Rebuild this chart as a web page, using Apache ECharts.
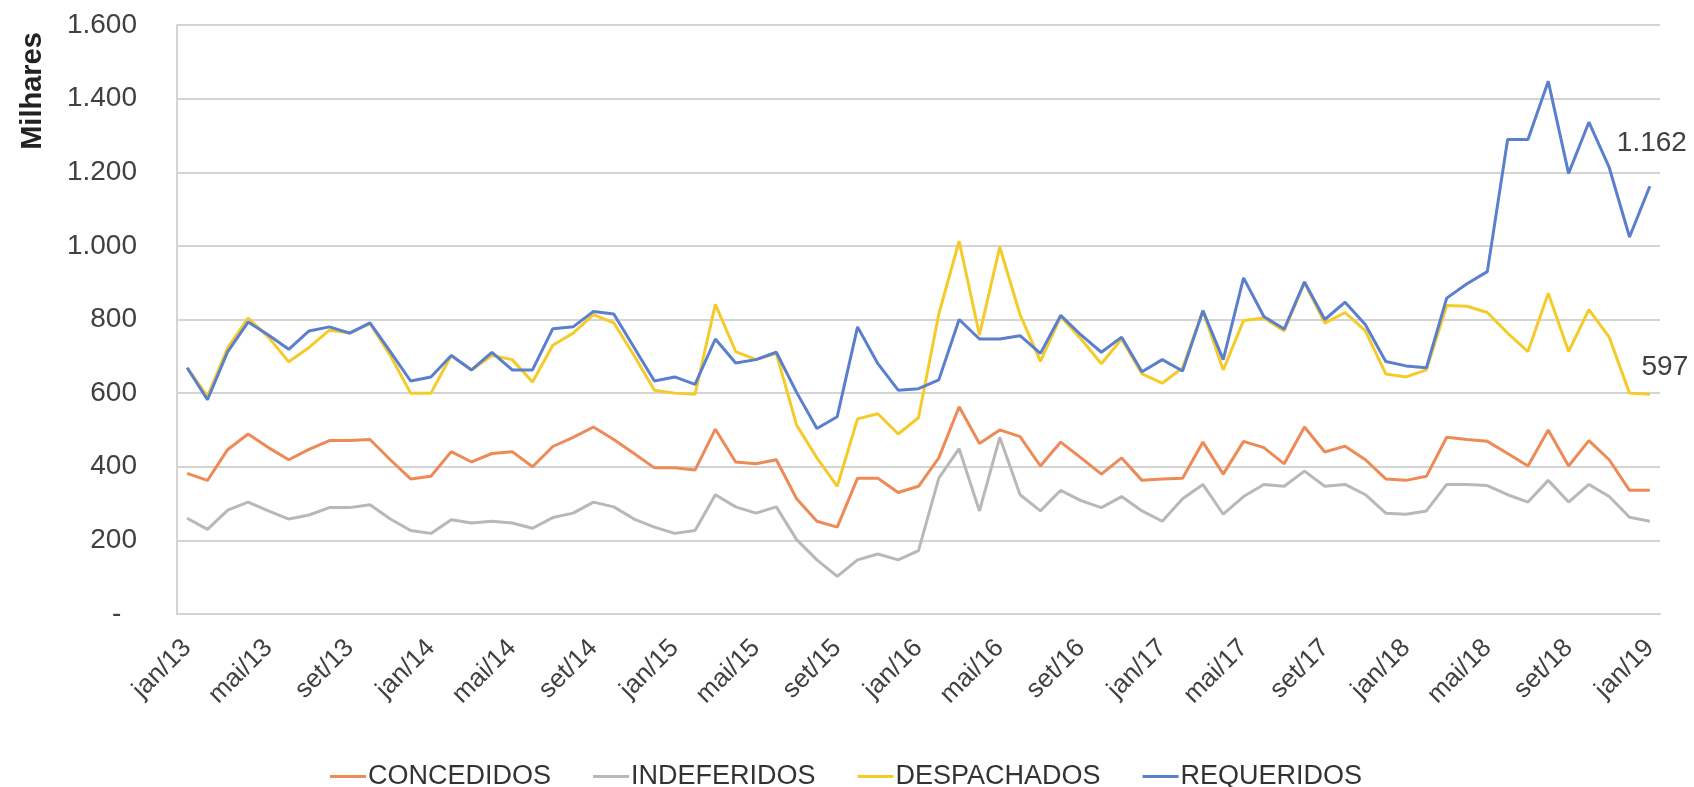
<!DOCTYPE html>
<html>
<head>
<meta charset="utf-8">
<title>Pedidos mensais</title>
<script src="https://cdn.jsdelivr.net/npm/echarts@6.0.0/dist/echarts.min.js"></script>
<style>
  html, body { margin: 0; padding: 0; background: #ffffff; }
  #chart { width: 1694px; height: 787px; }
</style>
</head>
<body>
<div id="chart"></div>
<script>
// Monthly series, jan/13 to jan/19, in thousands
const monthNames = ['jan', 'fev', 'mar', 'abr', 'mai', 'jun', 'jul', 'ago', 'set', 'out', 'nov', 'dez'];
const years = ['13', '14', '15', '16', '17', '18', '19'];

const concedidos = [
  382, 363, 447, 489, 452, 419, 447, 471, 471, 474, 419, 367,
  374, 441, 413, 436, 441, 400, 455, 480, 508, 474, 436, 397,
  397, 391, 502, 413, 408, 419, 313, 252, 236, 369, 369, 330,
  347, 424, 563, 463, 500, 482, 402, 467, 424, 380, 424, 363,
  367, 369, 467, 380, 469, 452, 408, 508, 440, 456, 419, 367,
  363, 374, 480, 474, 469, 436, 402, 500, 402, 471, 419, 336,
  336
];
const indeferidos = [
  260, 230, 282, 304, 280, 258, 269, 289, 289, 297, 258, 227,
  219, 256, 247, 252, 247, 233, 262, 274, 304, 291, 258, 236,
  219, 227, 324, 291, 274, 291, 202, 147, 102, 147, 163, 147,
  172, 369, 449, 280, 480, 324, 280, 336, 308, 289, 319, 280,
  252, 313, 352, 271, 319, 352, 347, 388, 347, 352, 324, 274,
  271, 280, 352, 352, 349, 324, 304, 363, 304, 352, 319, 263,
  252
];
const despachados = [
  669, 591, 724, 804, 752, 685, 724, 771, 763, 789, 702, 600,
  600, 702, 663, 702, 691, 630, 730, 763, 813, 791, 702, 608,
  600, 597, 841, 713, 691, 708, 513, 424, 347, 530, 544, 489,
  533, 815, 1013, 758, 997, 813, 686, 808, 747, 680, 747, 652,
  627, 669, 824, 663, 797, 804, 769, 900, 790, 819, 769, 652,
  644, 663, 838, 836, 819, 763, 713, 871, 713, 827, 752, 600,
  597
];
const requeridos = [
  669, 582, 713, 793, 758, 719, 769, 780, 763, 791, 713, 633,
  644, 702, 663, 711, 663, 663, 775, 780, 822, 815, 724, 633,
  644, 624, 747, 682, 691, 711, 602, 504, 536, 780, 680, 608,
  612, 636, 800, 747, 747, 756, 708, 811, 758, 711, 752, 658,
  691, 660, 824, 691, 913, 808, 774, 902, 800, 847, 786, 686,
  674, 669, 858, 897, 930, 1289, 1289, 1447, 1197, 1336, 1213, 1024,
  1162
];

// Category labels "mmm/yy" for every month of the period
const categories = [];
years.forEach(function (yy) {
  monthNames.forEach(function (m) {
    if (categories.length < concedidos.length) categories.push(m + '/' + yy);
  });
});

const FONT = '"Liberation Sans", Arial, sans-serif';
const TEXT_COLOR = '#404040';

function fmtThousands(v) {
  return String(Math.round(v)).replace(/\B(?=(\d{3})+(?!\d))/g, '.');
}

// Only the final month carries a value label
function withEndLabel(values, labelOpts) {
  return values.map(function (v, i) {
    if (i !== values.length - 1) return v;
    return {
      value: v,
      label: Object.assign({
        show: true,
        position: 'top',
        color: TEXT_COLOR,
        fontFamily: FONT,
        fontSize: 28,
        formatter: function (p) { return fmtThousands(p.value); }
      }, labelOpts)
    };
  });
}

function lineSeries(name, data, color) {
  return {
    name: name,
    type: 'line',
    data: data,
    symbol: 'circle',
    symbolSize: 0,
    showSymbol: true,
    showAllSymbol: true,
    silent: true,
    lineStyle: { width: 3, color: color },
    itemStyle: { color: color }
  };
}

const chart = echarts.init(document.getElementById('chart'), null, { renderer: 'canvas' });

chart.setOption({
  backgroundColor: '#ffffff',
  animation: false,
  grid: {
    left: 177,
    right: 34,
    top: 25,
    bottom: 173,
    containLabel: false,
    outerBoundsMode: 'none'
  },
  legend: {
    left: 325,
    top: 758,
    itemGap: 42,
    itemWidth: 36,
    itemHeight: 3,
    icon: 'rect',
    textStyle: { color: '#333333', fontFamily: FONT, fontSize: 27, padding: [0, 0, 0, -3] },
    data: ['CONCEDIDOS', 'INDEFERIDOS', 'DESPACHADOS', 'REQUERIDOS']
  },
  graphic: [{
    type: 'text',
    x: 33,
    y: 91,
    rotation: Math.PI / 2,
    style: {
      text: 'Milhares',
      fill: '#222222',
      font: 'bold 29px "Liberation Sans", Arial, sans-serif',
      textAlign: 'center',
      textVerticalAlign: 'middle'
    }
  }],
  xAxis: {
    type: 'category',
    data: categories,
    boundaryGap: true,
    axisLine: { show: true, lineStyle: { color: '#d4d4d4', width: 2 } },
    axisTick: { show: false },
    splitLine: { show: false },
    axisLabel: {
      interval: 3,
      rotate: 45,
      margin: 30,
      color: TEXT_COLOR,
      fontFamily: FONT,
      fontSize: 26
    }
  },
  yAxis: {
    type: 'value',
    min: 0,
    max: 1600,
    interval: 200,
    axisLine: { show: true, lineStyle: { color: '#d4d4d4', width: 2 } },
    axisTick: { show: false },
    splitLine: { show: true, lineStyle: { color: '#d4d4d4', width: 2 } },
    axisLabel: {
      margin: 40,
      color: TEXT_COLOR,
      fontFamily: FONT,
      fontSize: 28,
      formatter: function (v) { return v === 0 ? '-  ' : fmtThousands(v); }
    }
  },
  series: [
    lineSeries('CONCEDIDOS', concedidos, '#EE8A55'),
    lineSeries('INDEFERIDOS', indeferidos, '#B8B8B8'),
    lineSeries('DESPACHADOS', withEndLabel(despachados, { distance: 13, offset: [15, 0] }), '#F5CB2A'),
    lineSeries('REQUERIDOS', withEndLabel(requeridos, { distance: 29, offset: [2, 0] }), '#5A7FCF')
  ]
});
</script>
</body>
</html>
